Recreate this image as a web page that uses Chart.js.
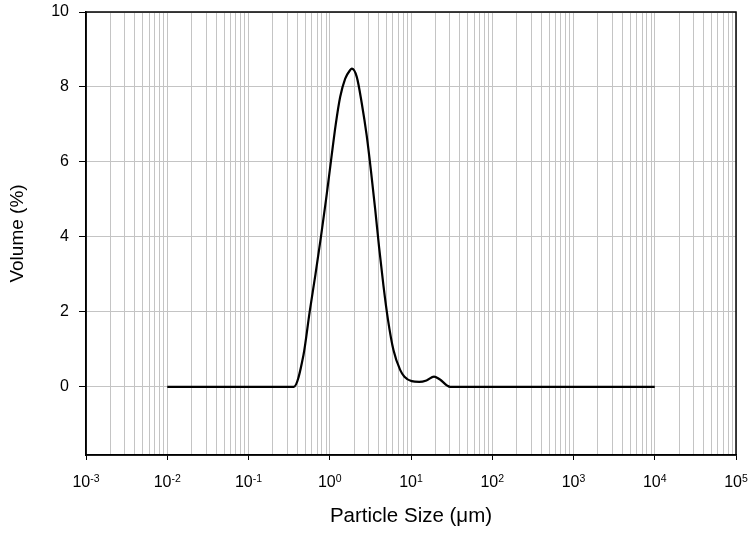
<!DOCTYPE html>
<html>
<head>
<meta charset="utf-8">
<script src="https://cdn.jsdelivr.net/npm/chart.js@4"></script>
<style>
  html, body { margin: 0; padding: 0; background: #ffffff; }
  #wrap { width: 750px; height: 537px; }
</style>
</head>
<body>
<div id="wrap"><canvas id="chart-psd"></canvas></div>
<script>
// particle size (um) and volume (%)
const sizes = [0.01, 0.36, 0.475, 0.566, 0.667, 0.779, 0.901, 1.032, 1.185, 1.343, 1.55, 1.78,
  1.87, 2.15, 2.48, 2.85, 3.22, 3.62, 4.05, 4.58, 5.2, 6.08, 7.35, 8.3, 10.2, 12.6,
  15.5, 19.2, 22.5, 30.3, 10000];
const volumes = [0, 0, 0.85, 2.0, 3.0, 4.0, 5.0, 6.0, 7.0, 7.73, 8.22, 8.45,
  8.49, 8.27, 7.56, 6.7, 5.75, 4.75, 3.72, 2.7, 1.8, 0.98, 0.45, 0.27, 0.15, 0.13,
  0.17, 0.27, 0.2, 0, 0];

const decades = [-3, -2, -1, 0, 1, 2, 3, 4, 5];
const yTicks = [0, 2, 4, 6, 8, 10];

const fontFamily = "'Liberation Sans', Arial, sans-serif";
const gridColor = "#c4c4c4";

function buildLogTicks() {
  const values = [];
  for (let i = 0; i < decades.length - 1; i++) {
    for (let m = 1; m <= 9; m++) {
      values.push(Number((m * Math.pow(10, decades[i])).toPrecision(12)));
    }
  }
  values.push(Math.pow(10, decades[decades.length - 1]));
  return values;
}

function isDecade(value) {
  const e = Math.log10(value);
  return Math.abs(e - Math.round(e)) < 1e-9;
}

function noPadding(scale) {
  scale.paddingTop = 0;
  scale.paddingBottom = 0;
  scale.paddingLeft = 0;
  scale.paddingRight = 0;
}

const framePlugin = {
  id: "frame",
  afterDraw(chart) {
    const { ctx, chartArea } = chart;
    ctx.save();
    ctx.strokeStyle = "#000000";
    ctx.lineWidth = 1.5;
    ctx.strokeRect(chartArea.left, chartArea.top, chartArea.right - chartArea.left, chartArea.bottom - chartArea.top);
    ctx.restore();
  }
};

// x labels as 10 with a raised exponent
const powerLabels = {
  id: "powerLabels",
  afterDraw(chart) {
    const { ctx } = chart;
    const xScale = chart.scales.x;
    const baseY = xScale.top + 31.5;
    ctx.save();
    ctx.fillStyle = "#000000";
    ctx.textBaseline = "alphabetic";
    ctx.textAlign = "left";
    decades.forEach(function (e) {
      const px = xScale.getPixelForValue(Math.pow(10, e));
      const exp = e < 0 ? "-" + Math.abs(e) : String(e);
      ctx.font = "16px " + fontFamily;
      const wBase = ctx.measureText("10").width;
      ctx.font = "10.5px " + fontFamily;
      const wExp = ctx.measureText(exp).width;
      const start = px - (wBase + wExp) / 2;
      ctx.font = "16px " + fontFamily;
      ctx.fillText("10", start, baseY);
      ctx.font = "10.5px " + fontFamily;
      ctx.fillText(exp, start + wBase, baseY - 5);
    });
    ctx.restore();
  }
};

const chartPsd = new Chart(document.getElementById("chart-psd"), {
  type: "line",
  data: {
    labels: sizes,
    datasets: [{
      label: "Volume",
      data: sizes.map((s, i) => ({ x: s, y: volumes[i] })),
      borderColor: "#000000",
      borderWidth: 2.2,
      pointRadius: 0,
      fill: false,
      cubicInterpolationMode: "monotone"
    }]
  },
  options: {
    responsive: true,
    maintainAspectRatio: false,
    animation: false,
    layout: { padding: { top: 12, right: 14, left: 0, bottom: 0 } },
    plugins: {
      legend: { display: false },
      tooltip: { enabled: false }
    },
    scales: {
      x: {
        type: "logarithmic",
        min: Math.pow(10, decades[0]),
        max: Math.pow(10, decades[decades.length - 1]),
        afterBuildTicks(scale) {
          scale.ticks = buildLogTicks().map(v => ({ value: v, major: isDecade(v) }));
        },
        afterFit(scale) {
          scale.height = 82;
          noPadding(scale);
        },
        ticks: { display: false },
        grid: {
          color: gridColor,
          lineWidth: 1,
          tickLength: 5,
          tickColor: ctx => (ctx.tick && isDecade(ctx.tick.value)) ? "#000000" : "rgba(0,0,0,0)"
        },
        border: { display: true, color: "#000000", width: 1.5 },
        title: {
          display: true,
          text: "Particle Size (μm)",
          color: "#000000",
          font: { family: fontFamily, size: 20.5 },
          padding: { top: 0, bottom: 8 }
        }
      },
      y: {
        type: "linear",
        min: -1.82,
        max: 10,
        afterBuildTicks(scale) {
          scale.ticks = yTicks.map(v => ({ value: v }));
        },
        afterFit(scale) {
          scale.width = 86;
          noPadding(scale);
        },
        ticks: {
          autoSkip: false,
          padding: 10,
          color: "#000000",
          font: { family: fontFamily, size: 16 }
        },
        grid: {
          color: gridColor,
          lineWidth: 1,
          tickLength: 7,
          tickColor: "#000000"
        },
        border: { display: true, color: "#000000", width: 1.5 },
        title: {
          display: true,
          text: "Volume (%)",
          color: "#000000",
          font: { family: fontFamily, size: 19 },
          padding: { top: 6, bottom: 0 }
        }
      }
    }
  },
  plugins: [framePlugin, powerLabels]
});
</script>
</body>
</html>
